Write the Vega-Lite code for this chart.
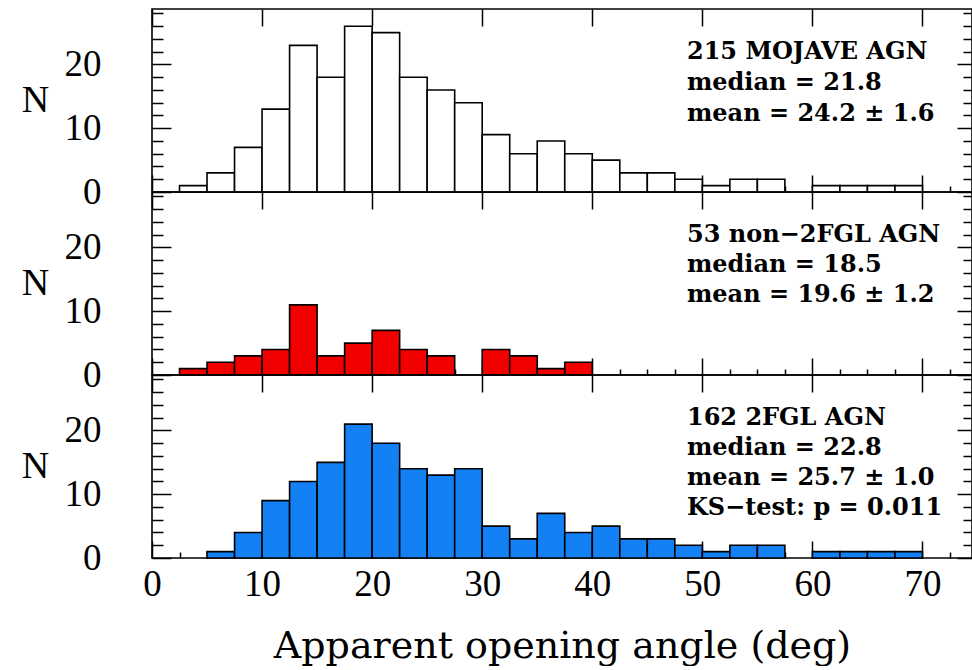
{
  "$schema": "https://vega.github.io/schema/vega-lite/v6.json",
  "padding": {"left": 20, "top": 7, "right": 2, "bottom": 0},
  "background": "white",
  "spacing": 0,
  "bounds": "flush",
  "datasets": {
    "mojave": [
      {"lo": 2.5, "hi": 5, "n": 1}, {"lo": 5, "hi": 7.5, "n": 3}, {"lo": 7.5, "hi": 10, "n": 7},
      {"lo": 10, "hi": 12.5, "n": 13}, {"lo": 12.5, "hi": 15, "n": 23}, {"lo": 15, "hi": 17.5, "n": 18},
      {"lo": 17.5, "hi": 20, "n": 26}, {"lo": 20, "hi": 22.5, "n": 25}, {"lo": 22.5, "hi": 25, "n": 18},
      {"lo": 25, "hi": 27.5, "n": 16}, {"lo": 27.5, "hi": 30, "n": 14}, {"lo": 30, "hi": 32.5, "n": 9},
      {"lo": 32.5, "hi": 35, "n": 6}, {"lo": 35, "hi": 37.5, "n": 8}, {"lo": 37.5, "hi": 40, "n": 6},
      {"lo": 40, "hi": 42.5, "n": 5}, {"lo": 42.5, "hi": 45, "n": 3}, {"lo": 45, "hi": 47.5, "n": 3},
      {"lo": 47.5, "hi": 50, "n": 2}, {"lo": 50, "hi": 52.5, "n": 1}, {"lo": 52.5, "hi": 55, "n": 2},
      {"lo": 55, "hi": 57.5, "n": 2}, {"lo": 60, "hi": 62.5, "n": 1}, {"lo": 62.5, "hi": 65, "n": 1},
      {"lo": 65, "hi": 67.5, "n": 1}, {"lo": 67.5, "hi": 70, "n": 1}
    ],
    "non2fgl": [
      {"lo": 2.5, "hi": 5, "n": 1}, {"lo": 5, "hi": 7.5, "n": 2}, {"lo": 7.5, "hi": 10, "n": 3},
      {"lo": 10, "hi": 12.5, "n": 4}, {"lo": 12.5, "hi": 15, "n": 11}, {"lo": 15, "hi": 17.5, "n": 3},
      {"lo": 17.5, "hi": 20, "n": 5}, {"lo": 20, "hi": 22.5, "n": 7}, {"lo": 22.5, "hi": 25, "n": 4},
      {"lo": 25, "hi": 27.5, "n": 3}, {"lo": 30, "hi": 32.5, "n": 4}, {"lo": 32.5, "hi": 35, "n": 3},
      {"lo": 35, "hi": 37.5, "n": 1}, {"lo": 37.5, "hi": 40, "n": 2}
    ],
    "fgl": [
      {"lo": 5, "hi": 7.5, "n": 1}, {"lo": 7.5, "hi": 10, "n": 4}, {"lo": 10, "hi": 12.5, "n": 9},
      {"lo": 12.5, "hi": 15, "n": 12}, {"lo": 15, "hi": 17.5, "n": 15}, {"lo": 17.5, "hi": 20, "n": 21},
      {"lo": 20, "hi": 22.5, "n": 18}, {"lo": 22.5, "hi": 25, "n": 14}, {"lo": 25, "hi": 27.5, "n": 13},
      {"lo": 27.5, "hi": 30, "n": 14}, {"lo": 30, "hi": 32.5, "n": 5}, {"lo": 32.5, "hi": 35, "n": 3},
      {"lo": 35, "hi": 37.5, "n": 7}, {"lo": 37.5, "hi": 40, "n": 4}, {"lo": 40, "hi": 42.5, "n": 5},
      {"lo": 42.5, "hi": 45, "n": 3}, {"lo": 45, "hi": 47.5, "n": 3}, {"lo": 47.5, "hi": 50, "n": 2},
      {"lo": 50, "hi": 52.5, "n": 1}, {"lo": 52.5, "hi": 55, "n": 2}, {"lo": 55, "hi": 57.5, "n": 2},
      {"lo": 60, "hi": 62.5, "n": 1}, {"lo": 62.5, "hi": 65, "n": 1}, {"lo": 65, "hi": 67.5, "n": 1},
      {"lo": 67.5, "hi": 70, "n": 1}
    ]
  },
  "vconcat": [
    {
      "width": 820, "height": 183,
      "layer": [
        {
          "data": {"name": "mojave"},
          "mark": {"type": "bar", "fill": "white", "stroke": "black", "strokeWidth": 1.6},
          "encoding": {
            "x": {"field": "lo", "type": "quantitative", "scale": {"domain": [0, 74.5], "nice": false, "zero": false},
              "axis": {"orient": "bottom", "values": [0,2.5,5,7.5,10,12.5,15,17.5,20,22.5,25,27.5,30,32.5,35,37.5,40,42.5,45,47.5,50,52.5,55,57.5,60,62.5,65,67.5,70,72.5],
                "tickSize": {"condition": {"test": "datum.value % 10 === 0", "value": -17}, "value": -6}, "labels": false, "title": null}},
            "x2": {"field": "hi"},
            "y": {"field": "n", "type": "quantitative", "scale": {"domain": [0, 28.7], "nice": false},
              "axis": {"orient": "left", "values": [0,2,4,6,8,10,12,14,16,18,20,22,24,26,28],
                "tickSize": {"condition": {"test": "datum.value % 10 === 0", "value": -19}, "value": -11},
                "labelExpr": "datum.value % 10 === 0 ? datum.label : ''",
                "labelFontSize": {"condition": {"test": "datum.value % 10 === 0", "value": 37}, "value": 0},
                "labelPadding": 70, "labelBaseline": "middle",
                "title": "N", "titleAngle": 0, "titleX": -117, "titleY": 91, "titleAlign": "center", "titleBaseline": "middle"}},
            "y2": {"datum": 0}
          }
        },
        {
          "data": {"values": [{}]},
          "mark": {"type": "text", "text": ["215 MOJAVE AGN", "median = 21.8", "mean = 24.2 ± 1.6"], "align": "left", "baseline": "alphabetic",
            "font": "DejaVu Serif", "fontWeight": "bold", "fontSize": 24, "lineHeight": 31, "color": "black"},
          "encoding": {
            "x": {"datum": 48.6, "type": "quantitative",
              "axis": {"orient": "top", "values": [0,10,20,30,40,50,60,70], "tickSize": -17, "labels": false, "title": null}},
            "y": {"datum": 20.9, "type": "quantitative",
              "axis": {"orient": "right", "values": [0,2,4,6,8,10,12,14,16,18,20,22,24,26,28],
                "tickSize": {"condition": {"test": "datum.value % 10 === 0", "value": -15}, "value": -9}, "labels": false, "title": null}}
          }
        }
      ],
      "resolve": {"axis": {"x": "independent", "y": "independent"}}
    },
    {
      "width": 820, "height": 183,
      "layer": [
        {
          "data": {"name": "non2fgl"},
          "mark": {"type": "bar", "fill": "#f20000", "stroke": "black", "strokeWidth": 1.6},
          "encoding": {
            "x": {"field": "lo", "type": "quantitative", "scale": {"domain": [0, 74.5], "nice": false, "zero": false},
              "axis": {"orient": "bottom", "values": [0,2.5,5,7.5,10,12.5,15,17.5,20,22.5,25,27.5,30,32.5,35,37.5,40,42.5,45,47.5,50,52.5,55,57.5,60,62.5,65,67.5,70,72.5],
                "tickSize": {"condition": {"test": "datum.value % 10 === 0", "value": -17}, "value": -6}, "labels": false, "title": null}},
            "x2": {"field": "hi"},
            "y": {"field": "n", "type": "quantitative", "scale": {"domain": [0, 28.7], "nice": false},
              "axis": {"orient": "left", "values": [0,2,4,6,8,10,12,14,16,18,20,22,24,26,28],
                "tickSize": {"condition": {"test": "datum.value % 10 === 0", "value": -19}, "value": -11},
                "labelExpr": "datum.value % 10 === 0 ? datum.label : ''",
                "labelFontSize": {"condition": {"test": "datum.value % 10 === 0", "value": 37}, "value": 0},
                "labelPadding": 70, "labelBaseline": "middle",
                "title": "N", "titleAngle": 0, "titleX": -117, "titleY": 91, "titleAlign": "center", "titleBaseline": "middle"}},
            "y2": {"datum": 0}
          }
        },
        {
          "data": {"values": [{}]},
          "mark": {"type": "text", "text": ["53 non−2FGL AGN", "median = 18.5", "mean = 19.6 ± 1.2"], "align": "left", "baseline": "alphabetic",
            "font": "DejaVu Serif", "fontWeight": "bold", "fontSize": 24, "lineHeight": 30, "color": "black"},
          "encoding": {
            "x": {"datum": 48.6, "type": "quantitative",
              "axis": {"orient": "top", "values": [0,10,20,30,40,50,60,70], "tickSize": -17, "labels": false, "title": null}},
            "y": {"datum": 20.9, "type": "quantitative",
              "axis": {"orient": "right", "values": [0,2,4,6,8,10,12,14,16,18,20,22,24,26,28],
                "tickSize": {"condition": {"test": "datum.value % 10 === 0", "value": -15}, "value": -9}, "labels": false, "title": null}}
          }
        }
      ],
      "resolve": {"axis": {"x": "independent", "y": "independent"}}
    },
    {
      "width": 820, "height": 183,
      "layer": [
        {
          "data": {"name": "fgl"},
          "mark": {"type": "bar", "fill": "#1380f4", "stroke": "black", "strokeWidth": 1.6},
          "encoding": {
            "x": {"field": "lo", "type": "quantitative", "scale": {"domain": [0, 74.5], "nice": false, "zero": false},
              "axis": {"orient": "bottom", "values": [0,2.5,5,7.5,10,12.5,15,17.5,20,22.5,25,27.5,30,32.5,35,37.5,40,42.5,45,47.5,50,52.5,55,57.5,60,62.5,65,67.5,70,72.5],
                "tickSize": {"condition": {"test": "datum.value % 10 === 0", "value": -17}, "value": -6},
                "labelExpr": "datum.value % 10 === 0 ? datum.label : ''",
                "labelFontSize": {"condition": {"test": "datum.value % 10 === 0", "value": 37}, "value": 0},
                "labelPadding": 25, "labelBaseline": "top",
                "title": "Apparent opening angle (deg)", "titleY": 99, "titleX": 410, "titleBaseline": "alphabetic", "titleAlign": "center"}},
            "x2": {"field": "hi"},
            "y": {"field": "n", "type": "quantitative", "scale": {"domain": [0, 28.7], "nice": false},
              "axis": {"orient": "left", "values": [0,2,4,6,8,10,12,14,16,18,20,22,24,26,28],
                "tickSize": {"condition": {"test": "datum.value % 10 === 0", "value": -19}, "value": -11},
                "labelExpr": "datum.value % 10 === 0 ? datum.label : ''",
                "labelFontSize": {"condition": {"test": "datum.value % 10 === 0", "value": 37}, "value": 0},
                "labelPadding": 70, "labelBaseline": "middle",
                "title": "N", "titleAngle": 0, "titleX": -117, "titleY": 91, "titleAlign": "center", "titleBaseline": "middle"}},
            "y2": {"datum": 0}
          }
        },
        {
          "data": {"values": [{}]},
          "mark": {"type": "text", "text": ["162 2FGL AGN", "median = 22.8", "mean = 25.7 ± 1.0", "KS−test: p = 0.011"], "align": "left", "baseline": "alphabetic",
            "font": "DejaVu Serif", "fontWeight": "bold", "fontSize": 24, "lineHeight": 30, "color": "black"},
          "encoding": {
            "x": {"datum": 48.6, "type": "quantitative",
              "axis": {"orient": "top", "values": [0,10,20,30,40,50,60,70], "tickSize": -17, "labels": false, "title": null}},
            "y": {"datum": 20.9, "type": "quantitative",
              "axis": {"orient": "right", "values": [0,2,4,6,8,10,12,14,16,18,20,22,24,26,28],
                "tickSize": {"condition": {"test": "datum.value % 10 === 0", "value": -15}, "value": -9}, "labels": false, "title": null}}
          }
        }
      ],
      "resolve": {"axis": {"x": "independent", "y": "independent"}}
    }
  ],
  "config": {
    "view": {"stroke": "black", "strokeWidth": 1.6},
    "axis": {
      "domain": false, "grid": false, "tickColor": "black", "tickWidth": 1.5,
      "labelFont": "Liberation Serif", "labelFontSize": 37, "labelColor": "black",
      "labelFlush": false, "labelOverlap": false, "labelBound": false,
      "titleFont": "DejaVu Serif", "titleFontSize": 38, "titleFontWeight": "normal", "titleColor": "black"
    },
    "axisLeft": {"titleFont": "Liberation Serif", "titleFontSize": 38}
  }
}
